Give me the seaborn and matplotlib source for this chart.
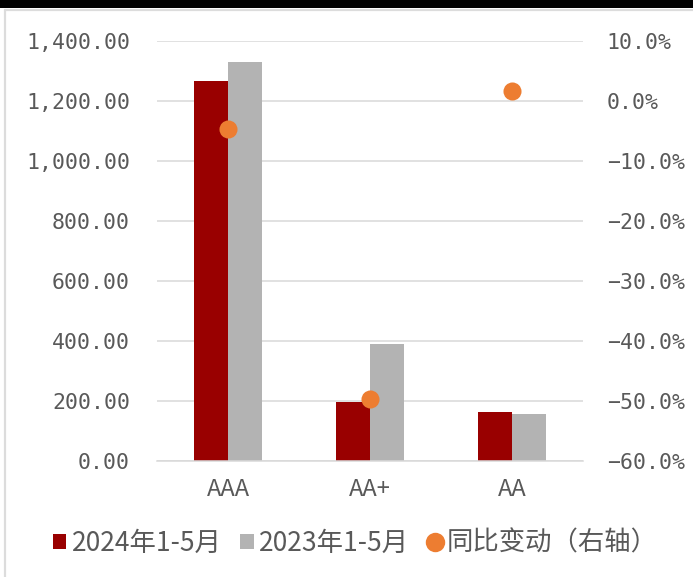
import matplotlib
matplotlib.use("Agg")
import matplotlib.pyplot as plt
import seaborn as sns
import pandas as pd
import numpy as np
from matplotlib.ticker import FuncFormatter, FixedLocator
from matplotlib.lines import Line2D
from matplotlib.patches import Patch

categories = ["AAA", "AA+", "AA"]
series_2024 = [1267, 198, 162]
series_2023 = [1330, 390, 158]
yoy_change = [-4.6, -49.6, 1.6]
series_names = ["2024年1-5月", "2023年1-5月", "同比变动（右轴）"]

sns.set_theme(style="white")
plt.rcParams['font.family'] = ['Noto Sans CJK SC', 'DejaVu Sans']
plt.rcParams['axes.unicode_minus'] = False

text_color = "#595959"
grid_color = "#d9d9d9"
c24 = "#990000"
c23 = "#b3b3b3"
cdot = "#ED7D31"

df = pd.DataFrame({
    "cat": categories * 2,
    "val": series_2024 + series_2023,
    "series": [series_names[0]] * 3 + [series_names[1]] * 3,
})
df_dot = pd.DataFrame({"cat": categories, "yoy": yoy_change})

fig = plt.figure(figsize=(6.93, 5.77), dpi=100)
ax = fig.add_axes([157/693, 1-461/577, (583-157)/693, 420/577])

sns.barplot(data=df, x="cat", y="val", hue="series", hue_order=series_names[:2],
            palette=[c24, c23], width=0.48, ax=ax, legend=False, linewidth=0,
            saturation=1)
ax.set_xlim(-0.5, 2.5)
ax.set_ylim(0, 1400)
ax.set_yticks(np.arange(0, 1401, 200))
ax.yaxis.set_major_formatter(FuncFormatter(lambda v, p: f"{v:,.2f}"))
ax.grid(axis="y", color=grid_color, linewidth=1.1)
ax.set_axisbelow(True)
ax.set_xlabel("")
ax.set_ylabel("")
for s in ["left", "right", "top"]:
    ax.spines[s].set_visible(False)
ax.spines["bottom"].set_color(grid_color)
ax.spines["bottom"].set_linewidth(1.1)
ax.tick_params(axis="y", length=0, pad=19.5, labelcolor=text_color)
ax.tick_params(axis="x", which="major", length=0, pad=12, labelsize=17, labelcolor=text_color)
ax.xaxis.set_minor_locator(FixedLocator([-0.5, 0.5, 1.5, 2.5]))
ax.tick_params(axis="x", which="minor", length=5, width=1.1, color=grid_color, direction="out")
for lab in ax.get_yticklabels():
    lab.set_fontfamily("DejaVu Sans Mono")
    lab.set_fontsize(15.5)

ax2 = ax.twinx()
sns.stripplot(data=df_dot, x="cat", y="yoy", color=cdot, jitter=False, size=13,
              linewidth=0, ax=ax2, zorder=5)
ax2.set_xlim(-0.5, 2.5)
ax2.set_ylim(-60, 10)
ax2.set_yticks(np.arange(-60, 11, 10))
ax2.yaxis.set_major_formatter(FuncFormatter(lambda v, p: f"{v:.1f}%".replace("-", "−")))
ax2.set_ylabel("")
ax2.set_xlabel("")
for s in ax2.spines.values():
    s.set_visible(False)
ax2.tick_params(axis="y", length=0, pad=17, labelcolor=text_color)
for lab in ax2.get_yticklabels():
    lab.set_fontfamily("DejaVu Sans Mono")
    lab.set_fontsize(15.5)

handles = [
    Patch(facecolor=c24, edgecolor="none"),
    Patch(facecolor=c23, edgecolor="none"),
    Line2D([], [], marker="o", linestyle="none", markersize=14, markerfacecolor=cdot,
           markeredgewidth=0),
]
fig.legend(handles, series_names, loc="center", bbox_to_anchor=(0.513, 1-543/577),
           ncol=3, frameon=False, fontsize=19, labelcolor=text_color,
           handlelength=0.5, handleheight=0.5, handletextpad=0.22, columnspacing=0.7,
           borderaxespad=0)

# top black band and light frame
fig.add_artist(plt.Rectangle((0, 1-8/577), 1, 8/577, transform=fig.transFigure,
                             facecolor="black", edgecolor="none"))
fig.add_artist(Line2D([5/693, 5/693], [0, 1-10/577], transform=fig.transFigure,
                      color="#dcdcdc", linewidth=1.6))
fig.add_artist(Line2D([5/693, 1], [1-10/577, 1-10/577], transform=fig.transFigure,
                      color="#dcdcdc", linewidth=1.6))

fig.savefig("out.png", dpi=100)
